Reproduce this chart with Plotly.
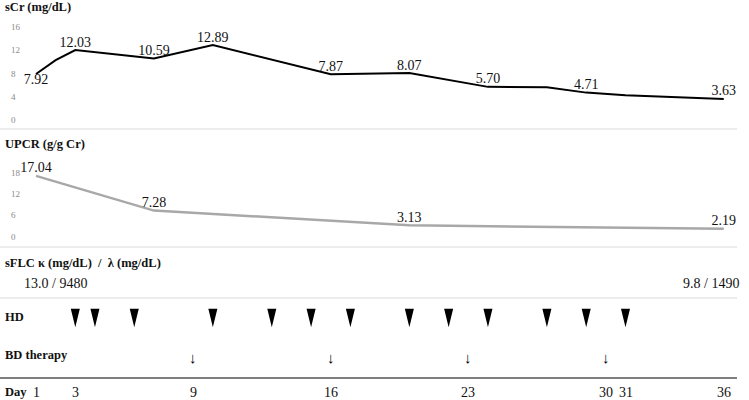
import plotly.graph_objects as go

# serum creatinine (mg/dL)
scr_days = [1, 2, 3, 7, 10, 16, 20, 24, 27, 29, 31, 36]
scr_vals = [7.92, 10.3, 12.03, 10.59, 12.89, 7.87, 8.07, 5.70, 5.65, 4.71, 4.25, 3.63]
scr_labels = ["7.92", "", "12.03", "10.59", "12.89", "7.87", "8.07", "5.70", "", "4.71", "", "3.63"]

# urine protein / creatinine ratio (g/g Cr)
upcr_days = [1, 7, 20, 36]
upcr_vals = [17.04, 7.28, 3.13, 2.19]
upcr_labels = ["17.04", "7.28", "3.13", "2.19"]

# sFLC kappa / lambda
sflc_first = "13.0 / 9480"
sflc_last = "9.8 / 1490"

hd_days = [3, 4, 6, 10, 13, 15, 17, 20, 22, 24, 27, 29, 31]
bd_days = [9, 16, 23, 30]
day_ticks = [1, 3, 9, 16, 23, 30, 31, 36]

scr_ticks = [0, 4, 8, 12, 16]
upcr_ticks = [0, 6, 12, 18]

W, H = 749, 400
SERIF = "Liberation Serif, Times New Roman, serif"


def py(px):
    """pixel row -> paper fraction"""
    return 1 - px / H


fig = go.Figure()

fig.add_trace(go.Scatter(
    x=scr_days, y=scr_vals, mode="lines+text",
    text=scr_labels,
    textposition=["bottom center"] + ["top center"] * (len(scr_days) - 1),
    textfont=dict(family=SERIF, size=14, color="#111"),
    line=dict(color="#000", width=2),
    xaxis="x", yaxis="y", showlegend=False,
))

fig.add_trace(go.Scatter(
    x=upcr_days, y=upcr_vals, mode="lines+text",
    text=upcr_labels, textposition="top center",
    textfont=dict(family=SERIF, size=14, color="#111"),
    line=dict(color="#a8a8a8", width=2.5),
    xaxis="x", yaxis="y2", showlegend=False,
))

# HD sessions as tall down-pointing triangles
half_w, tri_top, tri_tip = 0.23, 0.78, 0.32
tx, ty = [], []
for d in hd_days:
    tx += [d - half_w, d + half_w, d, None]
    ty += [tri_top, tri_top, tri_tip, None]
fig.add_trace(go.Scatter(
    x=tx, y=ty, mode="lines", fill="toself", fillcolor="#000",
    line=dict(width=0, color="#000"),
    xaxis="x", yaxis="y3", showlegend=False, hoverinfo="skip",
))

r0 = 1 - 36 / 19.65
r1 = r0 + W / 19.65

tickfont = dict(family=SERIF, size=9, color="#8a8a8a")
fig.update_layout(
    width=W, height=H,
    margin=dict(l=0, r=0, t=0, b=0),
    paper_bgcolor="white", plot_bgcolor="rgba(0,0,0,0)",
    xaxis=dict(domain=[0, 1], range=[r0, r1], visible=False, anchor="y3"),
    yaxis=dict(domain=[py(128), py(15)], range=[-1.38, 18.07], tickvals=scr_ticks,
               ticklabelposition="inside", ticklabelstandoff=8, tickfont=tickfont,
               showgrid=False, zeroline=False, showline=False, anchor="x"),
    yaxis2=dict(domain=[py(247), py(150)], range=[-2.95, 24.3], tickvals=upcr_ticks,
                ticklabelposition="inside", ticklabelstandoff=8, tickfont=tickfont,
                showgrid=False, zeroline=False, showline=False, anchor="x"),
    yaxis3=dict(domain=[py(340), py(300)], range=[0, 1], visible=False, anchor="x"),
)

# separators
for yy in [129, 247, 298]:
    fig.add_shape(type="line", xref="paper", yref="paper", x0=0, x1=737 / W,
                  y0=py(yy), y1=py(yy), line=dict(color="#e6e6e6", width=1.5))
fig.add_shape(type="line", xref="paper", yref="paper", x0=0, x1=737 / W,
              y0=py(378), y1=py(378), line=dict(color="#555", width=1.5))

bold = dict(family=SERIF, size=12.5, color="#111")
row_labels = [("<b>sCr (mg/dL)</b>", 7), ("<b>UPCR (g/g Cr)</b>", 144),
              ("<b>sFLC κ (mg/dL)  /  λ (mg/dL)</b>", 263), ("<b>HD</b>", 317),
              ("<b>BD therapy</b>", 355), ("<b>Day</b>", 392)]
for txt, yy in row_labels:
    fig.add_annotation(text=txt, xref="paper", yref="paper", x=3 / W, y=py(yy),
                       xanchor="left", yanchor="middle", showarrow=False, font=bold)

valfont = dict(family=SERIF, size=14, color="#111")
fig.add_annotation(text=sflc_first, xref="paper", yref="paper", x=22 / W, y=py(283),
                   xanchor="left", yanchor="middle", showarrow=False, font=valfont)
fig.add_annotation(text=sflc_last, xref="paper", yref="paper", x=741 / W, y=py(283),
                   xanchor="right", yanchor="middle", showarrow=False, font=valfont)

for d in bd_days:
    fig.add_annotation(text="↓", xref="x", yref="paper", x=d, y=py(357),
                       xanchor="center", yanchor="middle", showarrow=False,
                       font=dict(family="Liberation Sans, DejaVu Sans", size=15, color="#000"))

for d in day_ticks:
    fig.add_annotation(text=str(d), xref="x", yref="paper", x=d, y=py(392),
                       xanchor="center", yanchor="middle", showarrow=False, font=valfont)

fig.write_html("out.html", config={"displayModeBar": False},
               post_script="document.body.style.margin='0';")
